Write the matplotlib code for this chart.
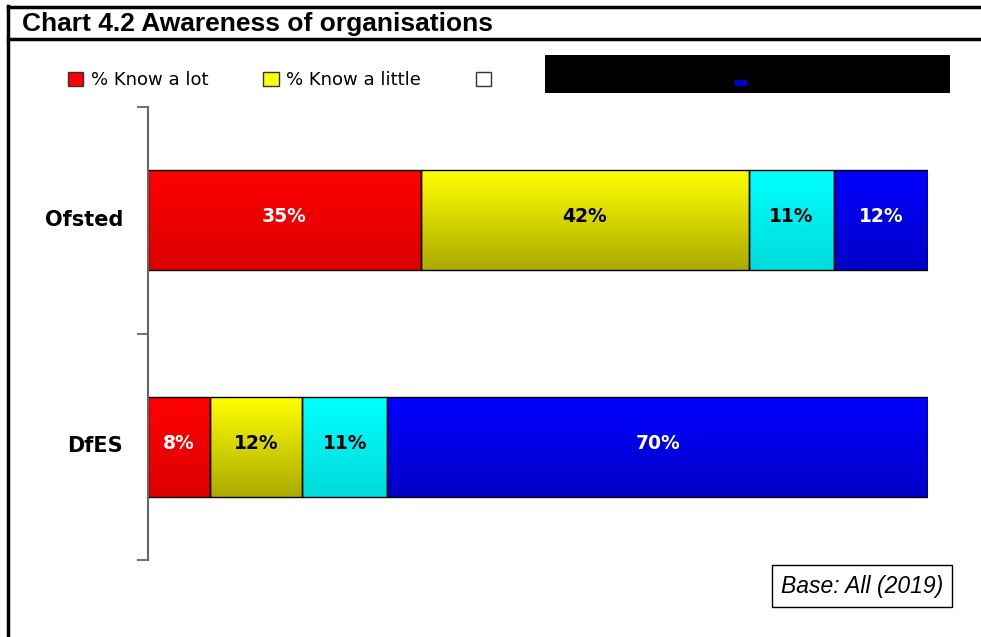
import numpy as np
import matplotlib
matplotlib.use("Agg")
import matplotlib.pyplot as plt
from matplotlib.patches import Patch, Rectangle
from matplotlib.lines import Line2D

# data
categories = ["Ofsted", "DfES"]
series = ["% Know a lot", "% Know a little", "", ""]
ofsted = [35, 42, 11, 12]
dfes = [8, 12, 11, 70]
values = [ofsted, dfes]
top_colors = [(1.0, 0.0, 0.0), (1.0, 1.0, 0.0), (0.0, 1.0, 1.0), (0.0, 0.0, 1.0)]
bottom_colors = [(0.86, 0.0, 0.0), (0.67, 0.67, 0.0), (0.0, 0.86, 0.86), (0.0, 0.0, 0.78)]
label_colors = ["white", "black", "black", "white"]

W, H = 981, 637
fig = plt.figure(figsize=(W / 100, H / 100), dpi=100)


def fx(x):
    return x / W


def fy(y):
    return 1 - y / H


ax = fig.add_axes([fx(148), fy(560), fx(928) - fx(148), fy(107) - fy(560)])

bar_h = 0.44
for i, row in enumerate(values):
    total = float(sum(row))
    left = 0.0
    for j, v in enumerate(row):
        w = v / total * 100
        grad = np.linspace(0, 1, 64)[:, None, None]
        img = np.array(top_colors[j])[None, None, :] * (1 - grad) + np.array(bottom_colors[j])[None, None, :] * grad
        y0 = i + 0.5 - bar_h / 2
        ax.imshow(img, extent=(left, left + w, y0 + bar_h, y0), aspect="auto",
                  interpolation="bilinear", zorder=1)
        ax.barh(i + 0.5, w, left=left, height=bar_h, facecolor="none",
                edgecolor="black", linewidth=1, zorder=2)
        ax.text(left + w / 2, i + 0.485, f"{v}%", ha="center", va="center",
                color=label_colors[j], fontsize=13.5, fontweight="bold", zorder=3)
        left += w

ax.set_xlim(0, 100)
ax.set_ylim(2, 0)
ax.set_yticks([0, 1, 2])
ax.set_yticklabels([])
ax.set_yticks([0.49, 1.49], minor=True)
ax.set_yticklabels(categories, minor=True, fontsize=15, fontweight="bold")
ax.tick_params(axis="y", which="major", length=8, color="#666666", width=1.3)
ax.tick_params(axis="y", which="minor", length=0, pad=18)
ax.xaxis.set_visible(False)
for s in ["top", "right", "bottom"]:
    ax.spines[s].set_visible(False)
ax.spines["left"].set_color("#666666")
ax.spines["left"].set_linewidth(1.5)

# frame lines and title
fig.add_artist(Line2D([fx(8), fx(8)], [fy(6), 0], color="black", linewidth=2.5))
fig.add_artist(Line2D([fx(8), 1], [fy(7), fy(7)], color="black", linewidth=2.5))
fig.add_artist(Line2D([fx(8), 1], [fy(39), fy(39)], color="black", linewidth=2.5))
fig.text(fx(22), fy(24), "Chart 4.2 Awareness of organisations", fontsize=19,
         fontweight="bold", family="Liberation Sans", va="center", ha="left")

# legend
handles = [Patch(facecolor=top_colors[0], edgecolor="#333333"),
           Patch(facecolor=top_colors[1], edgecolor="#333333"),
           Patch(facecolor="white", edgecolor="#333333")]
fig.legend(handles, series[:3], loc="center left", bbox_to_anchor=(fx(59), fy(80)),
           ncol=3, frameon=False, fontsize=13, handlelength=0.85, handleheight=0.85,
           handletextpad=0.4, columnspacing=3.05, borderpad=0)

# redacted area of the legend
fig.add_artist(Rectangle((fx(545), fy(93)), fx(950) - fx(545), fy(55) - fy(93),
                         transform=fig.transFigure, facecolor="black", edgecolor="none"))
fig.add_artist(Rectangle((fx(735), fy(86)), fx(12), fy(80) - fy(86),
                         transform=fig.transFigure, facecolor="#0000cc", edgecolor="none"))

fig.text(fx(862), fy(586), "Base: All (2019)", fontsize=16.5, style="italic",
         family="Liberation Sans", ha="center", va="center",
         bbox=dict(boxstyle="square,pad=0.4", facecolor="white", edgecolor="black", linewidth=1))

fig.savefig("out.png", dpi=100)
